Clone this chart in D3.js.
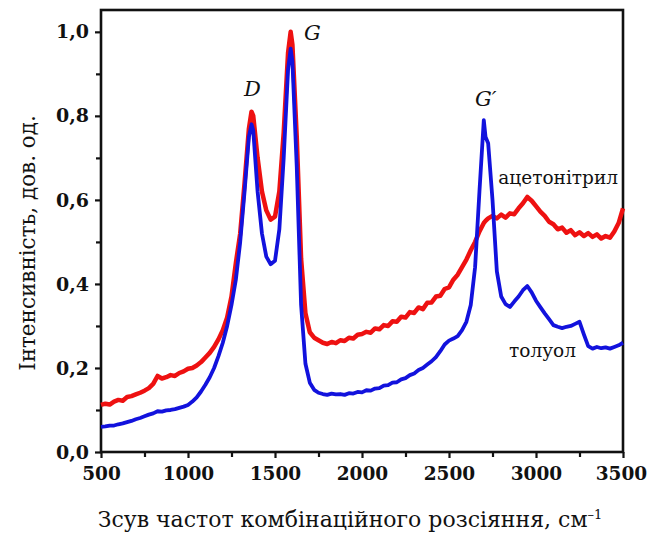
<!DOCTYPE html>
<html lang="uk">
<head>
  <meta charset="UTF-8">
  <title>Raman</title>
  <style>
    body { margin: 0; background: #fff; }
    text { font-family: "DejaVu Serif", serif; fill: #111; }
  </style>
</head>
<body>
  <svg id="chart"></svg>
  <script src="https://cdn.jsdelivr.net/npm/d3@7"></script>
  <script>
    // raman shift, cm^-1
    let shift = [500, 525, 550, 575, 600, 625, 650, 675, 700, 725,
      750, 775, 800, 825, 850, 875, 900, 925, 950, 975,
      1000, 1025, 1050, 1075, 1100, 1125, 1150, 1175, 1200, 1225,
      1250, 1275, 1300, 1325, 1350, 1365, 1375, 1400, 1425, 1450,
      1475, 1500, 1525, 1550, 1575, 1590, 1600, 1625, 1650, 1675,
      1700, 1725, 1750, 1775, 1800, 1825, 1850, 1875, 1900, 1925,
      1950, 1975, 2000, 2025, 2050, 2075, 2100, 2125, 2150, 2175,
      2200, 2225, 2250, 2275, 2300, 2325, 2350, 2375, 2400, 2425,
      2450, 2475, 2500, 2525, 2550, 2575, 2600, 2625, 2650, 2675,
      2700, 2710, 2725, 2750, 2775, 2800, 2825, 2850, 2875, 2900,
      2925, 2950, 2975, 3000, 3025, 3050, 3075, 3100, 3125, 3150,
      3175, 3200, 3225, 3250, 3275, 3300, 3325, 3350, 3375, 3400,
      3425, 3450, 3475, 3500]

    let acetonitrile = [0.112, 0.115, 0.113, 0.12, 0.124, 0.122, 0.131, 0.133, 0.137, 0.141,
      0.146, 0.152, 0.162, 0.181, 0.175, 0.178, 0.183, 0.181, 0.188, 0.192,
      0.198, 0.2, 0.206, 0.214, 0.225, 0.236, 0.25, 0.268, 0.29, 0.32,
      0.37, 0.45, 0.52, 0.64, 0.77, 0.81, 0.8, 0.70, 0.62, 0.575,
      0.553, 0.56, 0.62, 0.76, 0.95, 1.0, 0.97, 0.75, 0.46, 0.33,
      0.285, 0.272, 0.266, 0.26, 0.257, 0.262, 0.259, 0.266, 0.264, 0.272,
      0.27, 0.279, 0.281, 0.286, 0.284, 0.294, 0.292, 0.302, 0.3, 0.311,
      0.31, 0.322, 0.32, 0.333, 0.331, 0.344, 0.34, 0.355, 0.356, 0.37,
      0.372, 0.388, 0.392, 0.41, 0.422, 0.44, 0.458, 0.48, 0.5, 0.525,
      0.545, 0.55, 0.556, 0.562, 0.556, 0.565, 0.558, 0.568, 0.566, 0.58,
      0.592, 0.607, 0.598, 0.585, 0.572, 0.562, 0.548, 0.542, 0.53, 0.534,
      0.522, 0.528, 0.516, 0.523, 0.514, 0.521, 0.512, 0.518, 0.508, 0.514,
      0.51, 0.525, 0.545, 0.58]

    let toluene = [0.06, 0.061, 0.063, 0.063, 0.066, 0.068, 0.071, 0.074, 0.078, 0.081,
      0.085, 0.089, 0.092, 0.097, 0.096, 0.099, 0.1, 0.102, 0.105, 0.108,
      0.112, 0.12, 0.13, 0.144, 0.16, 0.178, 0.2, 0.228, 0.26, 0.3,
      0.35, 0.41, 0.5, 0.62, 0.75, 0.78, 0.765, 0.62, 0.52, 0.465,
      0.447, 0.455, 0.53, 0.7, 0.91, 0.96, 0.93, 0.68, 0.35, 0.21,
      0.165, 0.148, 0.141, 0.138, 0.136, 0.139, 0.137, 0.138, 0.136, 0.14,
      0.139, 0.143, 0.142, 0.147, 0.146, 0.151, 0.152, 0.158, 0.159, 0.165,
      0.166, 0.173, 0.176, 0.183, 0.187, 0.195, 0.2, 0.208, 0.216, 0.226,
      0.24, 0.256, 0.265, 0.27, 0.276, 0.29, 0.31, 0.35, 0.44, 0.62,
      0.79, 0.75, 0.735, 0.6, 0.43, 0.37, 0.352, 0.345, 0.358, 0.37,
      0.385, 0.395, 0.38, 0.36, 0.345, 0.33, 0.316, 0.302, 0.298, 0.295,
      0.298, 0.3, 0.305, 0.31, 0.28, 0.252, 0.246, 0.25, 0.247, 0.249,
      0.246, 0.25, 0.254, 0.26]

    let xTicks = [500, 1000, 1500, 2000, 2500, 3000, 3500]
    let yTicks = [0, 0.2, 0.4, 0.6, 0.8, 1.0]

    let svgWidth = 649, svgHeight = 534
    let margin = { left: 101, right: 26, top: 10, bottom: 82 }
    let w = svgWidth - margin.left - margin.right
    let h = svgHeight - margin.top - margin.bottom

    let svg = d3.select('#chart')
      .attr('width', svgWidth)
      .attr('height', svgHeight)

    let g = svg.append('g')
      .attr('transform', `translate(${margin.left},${margin.top})`)

    let x = d3.scaleLinear().domain([500, 3500]).range([0, w])
    let y = d3.scaleLinear().domain([0, 1.052]).range([h, 0])

    let comma = d => d3.format('.1f')(d).replace('.', ',')

    // minor ticks
    g.append('g')
      .attr('transform', `translate(0,${h})`)
      .call(d3.axisBottom(x).tickValues(d3.range(750, 3500, 500)).tickSize(5).tickFormat(''))
    g.append('g')
      .call(d3.axisLeft(y).tickValues(d3.range(0.1, 1.0, 0.2)).tickSize(5).tickFormat(''))

    let xAxis = g.append('g')
      .attr('transform', `translate(0,${h})`)
      .call(d3.axisBottom(x).tickValues(xTicks).tickFormat(d3.format('d')).tickSize(6).tickPadding(9).tickSizeOuter(0))
    xAxis.selectAll('text').attr('font-size', 18.5).attr('font-weight', 'bold')
    xAxis.selectAll('.tick:last-of-type text').attr('dx', -2)

    let yAxis = g.append('g')
      .call(d3.axisLeft(y).tickValues(yTicks).tickFormat(comma).tickSize(6).tickPadding(6).tickSizeOuter(0))
    yAxis.selectAll('text').attr('font-size', 19).attr('font-weight', 'bold')

    g.selectAll('.domain').remove()
    g.selectAll('.tick line').attr('stroke', '#111').attr('stroke-width', 2.2)

    // frame
    g.append('rect')
      .attr('width', w).attr('height', h)
      .attr('fill', 'none').attr('stroke', '#111').attr('stroke-width', 2.6)

    let line = series => d3.line()
      .x((d, i) => x(shift[i]))
      .y(d => y(d))(series)

    g.append('path')
      .attr('d', line(acetonitrile))
      .attr('fill', 'none').attr('stroke', '#ee1111').attr('stroke-width', 4.5)
      .attr('stroke-linejoin', 'round')
    g.append('path')
      .attr('d', line(toluene))
      .attr('fill', 'none').attr('stroke', '#1212dd').attr('stroke-width', 3.8)
      .attr('stroke-linejoin', 'round')

    // peak labels
    let peaks = [{ t: 'D', v: 1365, s: 0.81 }, { t: 'G', v: 1600, s: 0.99 }, { t: 'G\u2032', v: 2700, s: 0.79 }]
    g.selectAll('.peak').data(peaks).enter().append('text')
      .attr('x', (d, i) => x(d.v) + [1, 20, 2][i])
      .attr('y', (d, i) => y(d.s) - [16, -4, 14][i])
      .attr('text-anchor', 'middle')
      .attr('font-size', 21).attr('font-style', 'italic')
      .text(d => d.t)

    g.append('text')
      .attr('x', x(3500) - 5).attr('y', y(0.638))
      .attr('text-anchor', 'end').attr('font-size', 18.5)
      .text('ацетонітрил')
    g.append('text')
      .attr('x', x(3230)).attr('y', y(0.225))
      .attr('text-anchor', 'end').attr('font-size', 18.5)
      .text('толуол')

    svg.append('text')
      .attr('x', 350).attr('y', 527)
      .attr('text-anchor', 'middle').attr('font-size', 22)
      .html('Зсув частот комбінаційного розсіяння, см<tspan dy="-8" font-size="13">–1</tspan>')

    svg.append('text')
      .attr('transform', 'translate(35,243) rotate(-90)')
      .attr('text-anchor', 'middle').attr('font-size', 21.5)
      .text('Інтенсивність, дов. од.')
  </script>
</body>
</html>
